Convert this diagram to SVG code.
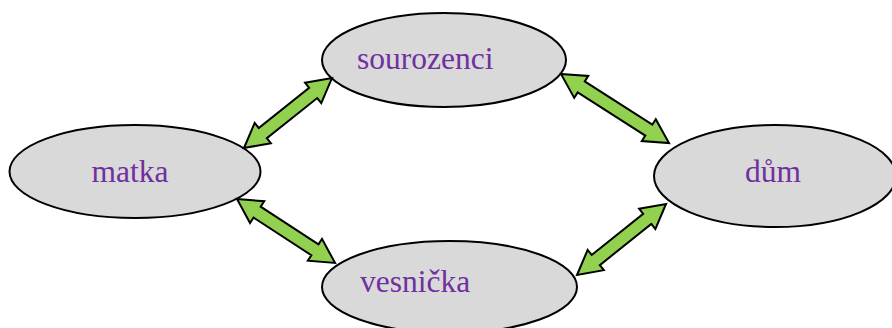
<svg xmlns="http://www.w3.org/2000/svg" width="892" height="328" viewBox="0 0 892 328">
<style>
.node{fill:#D9D9D9;stroke:#000;stroke-width:2}
.lbl{font-family:"Liberation Serif","Times New Roman",serif;font-size:31.5px;fill:#7030A0}
.arr{fill:#92D050;stroke:#000;stroke-width:2;stroke-linejoin:miter}
</style>
<rect width="892" height="328" fill="#fff"/>
<g id="sourozenci">
<ellipse class="node" cx="444" cy="60" rx="122" ry="47"/>
<text class="lbl" x="357" y="69">sourozenci</text>
</g>
<g id="matka">
<ellipse class="node" cx="135" cy="171.5" rx="125.5" ry="46.5"/>
<text class="lbl" x="130" y="182" text-anchor="middle">matka</text>
</g>
<g id="dum">
<ellipse class="node" cx="775" cy="176" rx="121" ry="51"/>
<text class="lbl" x="773" y="182" text-anchor="middle">dům</text>
</g>
<g id="vesnicka">
<ellipse class="node" cx="449.5" cy="287" rx="127.5" ry="46"/>
<text class="lbl" x="360" y="292">vesnička</text>
</g>
<g id="connectors">
<path class="arr" transform="translate(244,148) rotate(-38.5)" d="M0,0 L24,-13 L24,-6.5 L88.4,-6.5 L88.4,-13 L112.4,0 L88.4,13 L88.4,6.5 L24,6.5 L24,13 Z"/>
<path class="arr" transform="translate(561,74) rotate(32.6)" d="M0,0 L24,-13 L24,-6.5 L104.2,-6.5 L104.2,-13 L128.2,0 L104.2,13 L104.2,6.5 L24,6.5 L24,13 Z"/>
<path class="arr" transform="translate(237,199) rotate(33.1)" d="M0,0 L24,-13 L24,-6.5 L93,-6.5 L93,-13 L117,0 L93,13 L93,6.5 L24,6.5 L24,13 Z"/>
<path class="arr" transform="translate(577,275) rotate(-38.6)" d="M0,0 L24,-13 L24,-6.5 L89.9,-6.5 L89.9,-13 L113.9,0 L89.9,13 L89.9,6.5 L24,6.5 L24,13 Z"/>
</g>
</svg>
